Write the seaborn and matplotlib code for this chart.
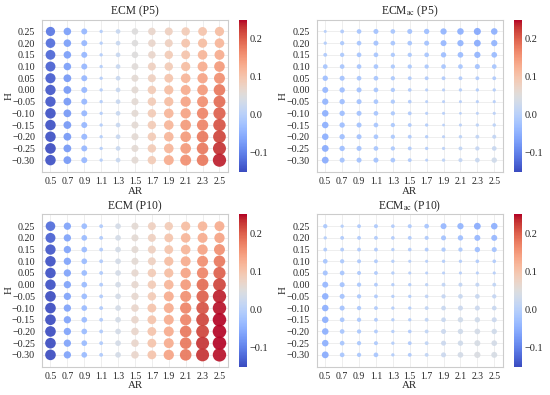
import numpy as np
import pandas as pd
import matplotlib
matplotlib.use("Agg")
import matplotlib.pyplot as plt
import seaborn as sns

ar_values = [0.5, 0.7, 0.9, 1.1, 1.3, 1.5, 1.7, 1.9, 2.1, 2.3, 2.5]
h_values = [0.25, 0.20, 0.15, 0.10, 0.05, 0.00, -0.05, -0.10, -0.15, -0.20, -0.25, -0.30]

# rows follow h_values (top to bottom), columns follow ar_values
ecm_p5 = [
    [-0.110, -0.070, -0.040, -0.005, 0.020, 0.050, 0.070, 0.080, 0.090, 0.100, 0.110],
    [-0.120, -0.070, -0.040, -0.005, 0.020, 0.050, 0.070, 0.080, 0.100, 0.110, 0.120],
    [-0.125, -0.070, -0.040, -0.005, 0.020, 0.050, 0.070, 0.090, 0.100, 0.120, 0.130],
    [-0.130, -0.070, -0.040, -0.005, 0.020, 0.055, 0.080, 0.090, 0.110, 0.130, 0.150],
    [-0.135, -0.075, -0.040, -0.005, 0.020, 0.060, 0.080, 0.100, 0.120, 0.140, 0.160],
    [-0.140, -0.075, -0.040, -0.005, 0.020, 0.060, 0.090, 0.110, 0.130, 0.150, 0.180],
    [-0.140, -0.075, -0.040, -0.005, 0.020, 0.060, 0.090, 0.110, 0.140, 0.160, 0.190],
    [-0.145, -0.075, -0.040, -0.005, 0.020, 0.060, 0.090, 0.120, 0.140, 0.170, 0.200],
    [-0.145, -0.075, -0.040, -0.005, 0.020, 0.060, 0.090, 0.120, 0.150, 0.170, 0.210],
    [-0.145, -0.075, -0.040, -0.005, 0.020, 0.060, 0.090, 0.120, 0.150, 0.180, 0.220],
    [-0.150, -0.075, -0.040, -0.005, 0.020, 0.060, 0.090, 0.120, 0.150, 0.180, 0.230],
    [-0.145, -0.075, -0.040, -0.005, 0.020, 0.060, 0.090, 0.130, 0.160, 0.180, 0.240],
]

ecm_ac_p5 = [
    [-0.002, -0.010, -0.020, -0.025, -0.020, -0.025, -0.030, -0.045, -0.050, -0.060, -0.050],
    [-0.005, -0.015, -0.020, -0.025, -0.020, -0.020, -0.025, -0.040, -0.045, -0.055, -0.045],
    [-0.010, -0.015, -0.020, -0.020, -0.015, -0.015, -0.020, -0.030, -0.035, -0.045, -0.035],
    [-0.020, -0.020, -0.020, -0.020, -0.015, -0.015, -0.015, -0.020, -0.020, -0.025, -0.020],
    [-0.030, -0.025, -0.020, -0.020, -0.015, -0.010, -0.010, -0.010, -0.010, -0.010, -0.010],
    [-0.040, -0.030, -0.025, -0.020, -0.015, -0.008, -0.003, -0.003, -0.005, -0.005, -0.005],
    [-0.045, -0.030, -0.025, -0.020, -0.015, -0.008, -0.002, -0.002, -0.002, -0.003, -0.003],
    [-0.050, -0.030, -0.025, -0.020, -0.015, -0.010, -0.003, -0.002, 0.000, 0.002, 0.003],
    [-0.050, -0.030, -0.025, -0.020, -0.015, -0.010, -0.005, 0.000, 0.003, 0.005, 0.006],
    [-0.050, -0.030, -0.025, -0.020, -0.015, -0.010, -0.005, 0.003, 0.006, 0.010, 0.012],
    [-0.055, -0.030, -0.025, -0.020, -0.015, -0.010, -0.005, 0.004, 0.010, 0.015, 0.020],
    [-0.055, -0.025, -0.025, -0.025, -0.020, -0.010, -0.002, 0.005, 0.012, 0.020, 0.030],
]

ecm_p10 = [
    [-0.120, -0.065, -0.035, -0.010, 0.035, 0.060, 0.080, 0.090, 0.110, 0.120, 0.130],
    [-0.130, -0.065, -0.035, -0.010, 0.035, 0.060, 0.080, 0.100, 0.120, 0.130, 0.140],
    [-0.140, -0.065, -0.035, -0.010, 0.035, 0.060, 0.080, 0.100, 0.120, 0.140, 0.160],
    [-0.145, -0.065, -0.035, -0.010, 0.035, 0.060, 0.080, 0.110, 0.130, 0.160, 0.180],
    [-0.145, -0.065, -0.035, -0.010, 0.035, 0.065, 0.090, 0.110, 0.140, 0.170, 0.200],
    [-0.145, -0.065, -0.035, -0.010, 0.035, 0.065, 0.090, 0.120, 0.150, 0.190, 0.220],
    [-0.150, -0.065, -0.035, -0.010, 0.035, 0.065, 0.090, 0.130, 0.160, 0.200, 0.240],
    [-0.150, -0.065, -0.035, -0.010, 0.035, 0.070, 0.100, 0.130, 0.170, 0.210, 0.245],
    [-0.150, -0.065, -0.035, -0.010, 0.035, 0.070, 0.100, 0.130, 0.170, 0.220, 0.250],
    [-0.150, -0.065, -0.035, -0.010, 0.035, 0.070, 0.100, 0.130, 0.180, 0.220, 0.250],
    [-0.150, -0.065, -0.035, -0.010, 0.035, 0.070, 0.100, 0.130, 0.180, 0.230, 0.250],
    [-0.150, -0.065, -0.035, -0.010, 0.035, 0.070, 0.100, 0.140, 0.180, 0.230, 0.245],
]

ecm_ac_p10 = [
    [-0.015, -0.005, -0.010, -0.012, -0.008, -0.012, -0.020, -0.040, -0.045, -0.055, -0.050],
    [-0.005, -0.010, -0.010, -0.010, -0.008, -0.010, -0.012, -0.025, -0.030, -0.040, -0.040],
    [-0.010, -0.010, -0.010, -0.010, -0.005, -0.008, -0.010, -0.015, -0.015, -0.030, -0.025],
    [-0.020, -0.015, -0.012, -0.010, -0.005, -0.003, -0.003, -0.005, -0.005, -0.008, -0.008],
    [-0.025, -0.020, -0.012, -0.010, -0.005, -0.003, -0.002, -0.002, -0.003, -0.003, -0.003],
    [-0.040, -0.025, -0.015, -0.010, -0.005, -0.005, 0.005, 0.010, 0.012, 0.012, 0.010],
    [-0.050, -0.025, -0.015, -0.010, -0.005, -0.005, 0.008, 0.015, 0.020, 0.020, 0.015],
    [-0.050, -0.025, -0.015, -0.010, -0.005, -0.005, 0.010, 0.020, 0.025, 0.025, 0.020],
    [-0.050, -0.020, -0.015, -0.010, -0.005, -0.005, 0.010, 0.020, 0.030, 0.030, 0.025],
    [-0.050, -0.020, -0.015, -0.010, -0.005, -0.008, 0.010, 0.025, 0.030, 0.035, 0.030],
    [-0.050, -0.020, -0.015, -0.012, -0.005, -0.010, 0.010, 0.025, 0.030, 0.040, 0.035],
    [-0.055, -0.020, -0.015, -0.020, -0.005, -0.010, 0.010, 0.025, 0.035, 0.045, 0.040],
]

titles = ["ECM (P5)", r"ECM$_{\rm ac}$ (P5)", "ECM (P10)", r"ECM$_{\rm ac}$ (P10)"]
panels = [ecm_p5, ecm_ac_p5, ecm_p10, ecm_ac_p10]

vmin, vmax = -0.15, 0.25

sns.set_style("whitegrid", {"axes.edgecolor": "#cccccc", "grid.color": "#ebebeb"})
plt.rcParams["font.family"] = ["Liberation Serif", "DejaVu Serif"]
plt.rcParams["mathtext.fontset"] = "stix"
plt.rcParams["axes.linewidth"] = 0.8
plt.rcParams["grid.linewidth"] = 0.6


def to_frame(mat):
    arr = np.array(mat)
    xx, yy = np.meshgrid(ar_values, h_values)
    return pd.DataFrame({"AR": xx.ravel(), "H": yy.ravel(),
                         "v": arr.ravel(), "absv": np.abs(arr.ravel())})


def fmt(v, nd):
    return f"{v:.{nd}f}".replace("-", "\u2212")


fig = plt.figure(figsize=(5.5, 3.95), dpi=100)

# axes boxes in figure fraction (left, bottom)
positions = [(0.0764, 0.565), (0.576, 0.565), (0.0764, 0.072), (0.576, 0.072)]
ax_w, ax_h = 0.338, 0.385
cb_gap, cb_w = 0.0205, 0.0145

norm = plt.Normalize(vmin, vmax)
for (left, bottom), title, mat in zip(positions, titles, panels):
    ax = fig.add_axes([left, bottom, ax_w, ax_h])
    df = to_frame(mat)
    sns.scatterplot(data=df, x="AR", y="H", hue="v", size="absv",
                    palette="coolwarm", hue_norm=(vmin, vmax),
                    sizes=(4, 95), size_norm=(0, 0.25),
                    alpha=0.92, linewidth=0, legend=False, ax=ax)
    ax.set_xlim(0.4, 2.6)
    ax.set_ylim(-0.35, 0.30)
    ax.set_xticks(ar_values)
    ax.set_xticklabels([fmt(a, 1) for a in ar_values])
    ax.set_yticks(h_values)
    ax.set_yticklabels([fmt(h, 2) for h in h_values])
    ax.tick_params(axis="x", labelsize=7.0, pad=0.3)
    ax.tick_params(axis="y", labelsize=7.2, pad=1.5)
    ax.set_xlabel("AR", fontsize=7.8)
    ax.set_ylabel("H", fontsize=7.8)
    ax.xaxis.set_label_coords(0.5, -0.098)
    ax.yaxis.set_label_coords(-0.155, 0.5)
    ax.set_title(title, fontsize=8.4, pad=4)

    cax = fig.add_axes([left + ax_w + cb_gap, bottom, cb_w, ax_h])
    sm = plt.cm.ScalarMappable(cmap="coolwarm", norm=norm)
    cb = fig.colorbar(sm, cax=cax)
    cb.outline.set_visible(False)
    cb.set_ticks([-0.1, 0.0, 0.1, 0.2])
    cb.ax.tick_params(labelsize=7.4, length=0, pad=2)

fig.savefig("out.png", dpi=100)
